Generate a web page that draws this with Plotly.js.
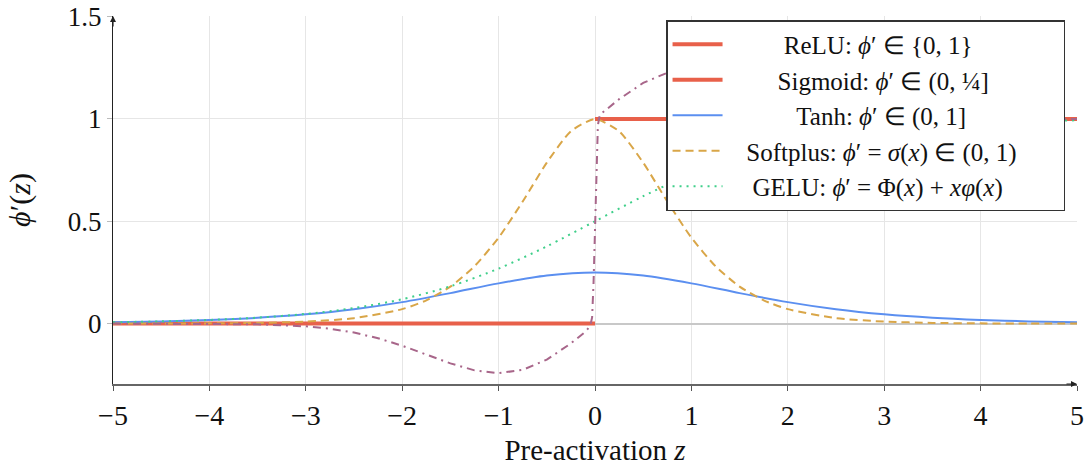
<!DOCTYPE html>
<html>
<head>
<meta charset="utf-8">
<script src="https://cdn.plot.ly/plotly-3.0.1.min.js"></script>
<style>html,body{margin:0;padding:0;background:#fff;}#chart{width:1091px;height:468px;}</style>
</head>
<body>
<div id="chart"></div>
<script>
// ---- data ----
const reluNegX = [-5, 0];
const reluNegY = [0, 0];
const reluPosX = [0, 5];
const reluPosY = [1, 1];

const blueX = [-5,-4.5,-4,-3.5,-3,-2.5,-2,-1.5,-1,-0.5,0,0.5,1,1.5,2,2.5,3,3.5,4,4.5,5];
const blueY = [0.0066,0.0109,0.0177,0.0284,0.0452,0.0701,0.1050,0.1491,0.1966,0.2350,0.25,0.2350,0.1966,0.1491,0.1050,0.0701,0.0452,0.0284,0.0177,0.0109,0.0066];

const orangeX = [-5,-4.5,-4,-3.5,-3,-2.5,-2,-1.75,-1.5,-1.25,-1,-0.75,-0.5,-0.25,0,0.25,0.5,0.75,1,1.25,1.5,1.75,2,2.5,3,3.5,4,4.5,5];
const orangeY = [0.0002,0.0005,0.0013,0.0036,0.0099,0.0266,0.0707,0.1138,0.1807,0.2804,0.4200,0.5966,0.7864,0.9400,1.0,0.9400,0.7864,0.5966,0.4200,0.2804,0.1807,0.1138,0.0707,0.0266,0.0099,0.0036,0.0013,0.0005,0.0002];

const greenX = [-5,-4.5,-4,-3.5,-3,-2.5,-2,-1.5,-1,-0.5,0,0.5,1,1.5,2,2.5,3,3.5,4,4.5,5];
const greenY = [0.0067,0.0110,0.0180,0.0293,0.0474,0.0759,0.1192,0.1824,0.2689,0.3775,0.5,0.6225,0.7311,0.8176,0.8808,0.9241,0.9526,0.9707,0.9820,0.9890,0.9933];

const purpleX = [-5,-4.5,-4,-3.5,-3,-2.75,-2.5,-2.25,-2,-1.75,-1.5,-1.25,-1,-0.75,-0.5,-0.25,-0.1,-0.05,-0.03,-0.015,0,0.015,0.03,0.05,0.1,0.25,0.5,0.75,1,1.25,1.5,1.75,2,2.25,2.5,2.75,3,3.5,4,4.5,5];
const purpleY = [0,-0.0001,-0.0005,-0.0031,-0.0133,-0.0250,-0.0438,-0.0714,-0.1080,-0.1510,-0.1943,-0.2283,-0.2420,-0.2259,-0.1760,-0.0967,-0.0397,-0.012,0.03,0.2,0.5,0.8,0.97,1.02,1.0397,1.0967,1.1760,1.2259,1.2420,1.2283,1.1943,1.1510,1.1080,1.0714,1.0438,1.0250,1.0133,1.0031,1.0005,1.0001,1.0];

const legendNames = [
  'ReLU: <i>ϕ</i>′ ∈ {0, 1}',
  'Sigmoid: <i>ϕ</i>′ ∈ (0, ¼]',
  'Tanh: <i>ϕ</i>′ ∈ (0, 1]',
  'Softplus: <i>ϕ</i>′ = <i>σ</i>(<i>x</i>) ∈ (0, 1)',
  'GELU: <i>ϕ</i>′ = Φ(<i>x</i>) + <i>xφ</i>(<i>x</i>)'
];
const xTicks = [-5,-4,-3,-2,-1,0,1,2,3,4,5];
const yTicks = [0,0.5,1,1.5];
const yTickText = ['0','0.5','1','1.5'];

const RED = '#e8604a', BLUE = '#5b8ff0', ORANGE = '#d9a648', GREEN = '#3fcf8a', PURPLE = '#a8668a';
const FONT = 'Liberation Serif';
const LEG_SIZE = 25;

// centre legend texts by padding with no-break spaces (measured at run time)
const cv = document.createElement('canvas').getContext('2d');
function textW(html) {
  const parts = html.split(/(<i>|<\/i>)/);
  let it = false, w = 0;
  for (const p of parts) {
    if (p === '<i>') { it = true; continue; }
    if (p === '</i>') { it = false; continue; }
    cv.font = (it ? 'italic ' : '') + LEG_SIZE + 'px "' + FONT + '"';
    w += cv.measureText(p).width;
  }
  return w;
}
cv.font = LEG_SIZE + 'px "' + FONT + '"';
const nbW = cv.measureText('\u00a0').width;
const CENTER = 153, RIGHT = 325;
function pad(html) {
  const w = textW(html);
  const l = Math.max(0, Math.round((CENTER - w / 2) / nbW));
  const r = Math.max(0, Math.round((RIGHT - CENTER - w / 2) / nbW));
  return '\u00a0'.repeat(l) + html + '\u00a0'.repeat(r);
}
const names = legendNames.map(pad);

const traces = [
  {x: reluNegX, y: reluNegY, mode: 'lines', name: names[0], line: {color: RED, width: 4}},
  {x: reluPosX, y: reluPosY, mode: 'lines', name: names[1], line: {color: RED, width: 4}},
  {x: blueX, y: blueY, mode: 'lines', name: names[2], line: {color: BLUE, width: 2, shape: 'spline', smoothing: 0.8}},
  {x: orangeX, y: orangeY, mode: 'lines', name: names[3], line: {color: ORANGE, width: 2, dash: '8px,5px', shape: 'spline', smoothing: 0.6}},
  {x: greenX, y: greenY, mode: 'lines', name: names[4], line: {color: GREEN, width: 2, dash: '2px,5px', shape: 'spline', smoothing: 0.8}},
  {x: purpleX, y: purpleY, mode: 'lines', showlegend: false, line: {color: PURPLE, width: 2, dash: '8px,5px,2px,5px'}}
];

const layout = {
  width: 1091, height: 468,
  margin: {l: 113, r: 14, t: 16, b: 84},
  paper_bgcolor: '#fff', plot_bgcolor: '#fff',
  font: {family: FONT, size: 26, color: '#111'},
  showlegend: true,
  xaxis: {
    range: [-5, 5], tickvals: xTicks, ticks: 'outside', ticklen: 5, tickcolor: '#555',
    showgrid: true, gridcolor: '#e6e6e6', gridwidth: 1, zeroline: false,
    showline: true, linecolor: '#666', linewidth: 2,
    tickfont: {family: FONT, size: 28, color: '#111'},
    title: {text: 'Pre-activation <i>z</i>', font: {family: FONT, size: 29, color: '#111'}, standoff: 10}
  },
  yaxis: {
    range: [-0.295, 1.503], tickvals: yTicks, ticktext: yTickText, ticks: 'outside', ticklen: 5, tickcolor: '#bbb',
    showgrid: true, gridcolor: '#e6e6e6', gridwidth: 1,
    zeroline: true, zerolinecolor: '#c8c8c8', zerolinewidth: 2,
    showline: true, linecolor: '#222', linewidth: 1.2,
    tickfont: {family: FONT, size: 27, color: '#111'},
    title: {text: '<i>ϕ</i>′(<i>z</i>)', font: {family: FONT, size: 30, color: '#111'}, standoff: 28}
  },
  legend: {
    x: 0.5737, y: 0.989, xanchor: 'left', yanchor: 'top',
    bgcolor: '#fff', bordercolor: '#333', borderwidth: 1.5,
    font: {family: FONT, size: LEG_SIZE, color: '#111'},
    tracegroupgap: 0, itemwidth: 50
  },
  annotations: [
    {xref: 'paper', yref: 'paper', x: 0, y: 1, ax: 0, ay: 12, showarrow: true, arrowhead: 2, arrowsize: 1, arrowwidth: 1.2, arrowcolor: '#222', text: ''},
    {xref: 'paper', yref: 'paper', x: 1, y: 0, ax: -12, ay: 0, showarrow: true, arrowhead: 2, arrowsize: 1, arrowwidth: 1.2, arrowcolor: '#222', text: ''}
  ]
};

Plotly.newPlot('chart', traces, layout, {displayModeBar: false, staticPlot: true});
</script>
</body>
</html>
